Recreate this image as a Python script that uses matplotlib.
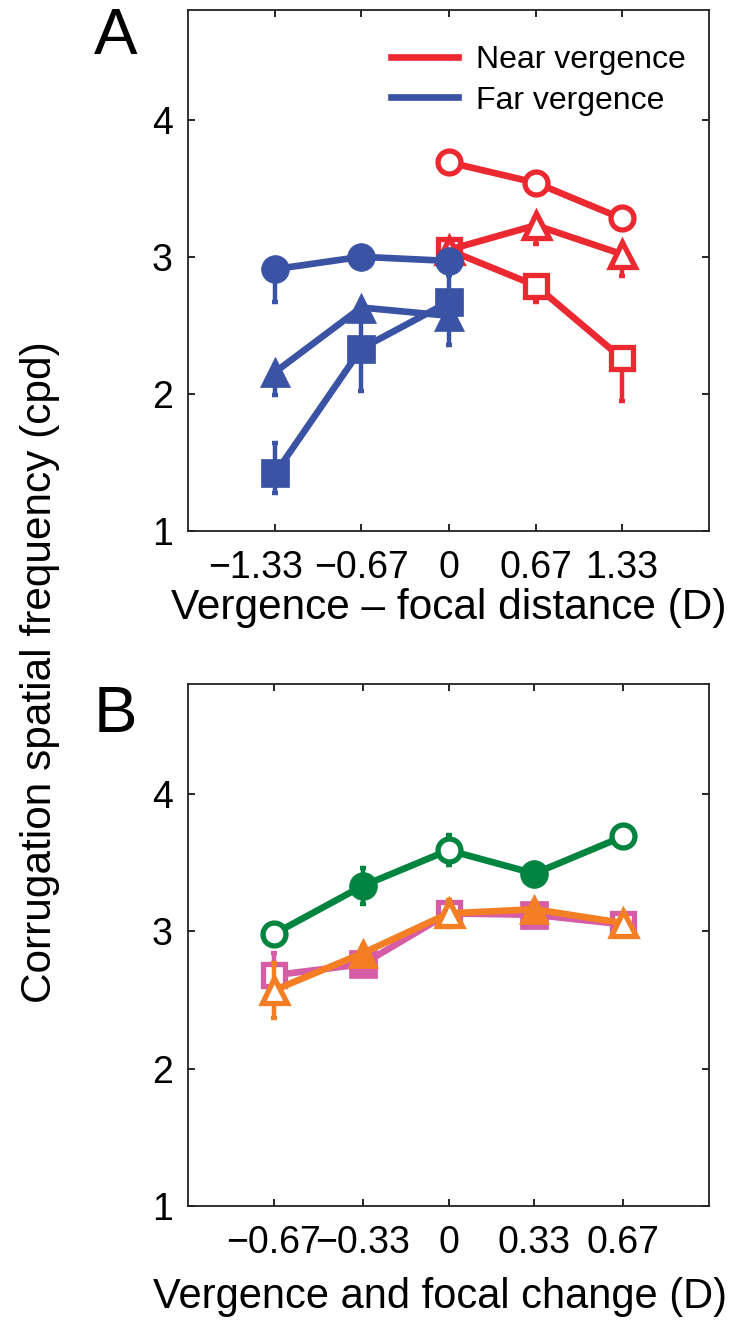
import matplotlib
matplotlib.use("Agg")
import matplotlib.pyplot as plt
import matplotlib.transforms as mtransforms
import numpy as np

plt.rcParams['font.family'] = ['Liberation Sans', 'DejaVu Sans']

# ---------------- data ----------------
# Panel A
x_near = [0.0, 0.67, 1.33]
x_far = [-1.33, -0.67, 0.0]
near_circle = [3.69, 3.54, 3.28]
near_circle_lo = [0.04, 0.04, 0.04]
near_circle_hi = [0.04, 0.04, 0.04]
near_tri = [3.05, 3.23, 3.02]
near_tri_lo = [0.10, 0.14, 0.16]
near_tri_hi = [0.05, 0.05, 0.05]
near_sq = [3.05, 2.79, 2.26]
near_sq_lo = [0.05, 0.12, 0.31]
near_sq_hi = [0.05, 0.05, 0.05]
far_circle = [2.91, 3.00, 2.97]
far_circle_lo = [0.24, 0.06, 0.10]
far_circle_hi = [0.03, 0.03, 0.03]
far_tri = [2.16, 2.63, 2.57]
far_tri_lo = [0.17, 0.10, 0.21]
far_tri_hi = [0.04, 0.04, 0.04]
far_sq = [1.42, 2.33, 2.67]
far_sq_lo = [0.14, 0.31, 0.10]
far_sq_hi = [0.22, 0.30, 0.20]

xticks_A = [-1.33, -0.67, 0, 0.67, 1.33]
xticklabels_A = ['\u22121.33', '\u22120.67', '0', '0.67', '1.33']

# Panel B
x_B = [-0.67, -0.33, 0.0, 0.33, 0.67]
green_circle = [2.98, 3.33, 3.59, 3.42, 3.69]
green_err = [0.04, 0.13, 0.11, 0.04, 0.04]
magenta_sq = [2.68, 2.76, 3.13, 3.12, 3.05]
magenta_err = [0.16, 0.05, 0.05, 0.05, 0.05]
orange_tri = [2.57, 2.84, 3.13, 3.16, 3.06]
orange_err = [0.20, 0.05, 0.10, 0.05, 0.05]
open_B = [True, False, True, False, True]

xticks_B = [-0.67, -0.33, 0, 0.33, 0.67]
xticklabels_B = ['\u22120.67', '\u22120.33', '0', '0.33', '0.67']

yticks = [1, 2, 3, 4]

RED = '#EC2830'
BLUE = '#3A53A4'
GREEN = '#00843F'
MAGENTA = '#D65CA6'
ORANGE = '#F47E23'

LW = 4.8
MEW = 3.8
TICK_FS = 27
LABEL_FS = 30.5

# marker sizes (open, filled) per marker type
MS = {'o': (16.5, 20), 's': (16.5, 20), '^': (18, 22)}

fig = plt.figure(figsize=(7.36, 13.23), dpi=100)
axA = fig.add_axes([188 / 736, 1 - 531 / 1323, 521 / 736, 521 / 1323])
axB = fig.add_axes([188 / 736, 1 - 1206 / 1323, 521 / 736, 522 / 1323])


def series(ax, x, y, lo, hi, color, marker, open_mask, z):
    x = np.asarray(x)
    y = np.asarray(y)
    ax.errorbar(x, y, yerr=[lo, hi], fmt='none', ecolor=color, elinewidth=3.2,
                capsize=2.5, capthick=3.2, zorder=z)
    ax.plot(x, y, '-', color=color, lw=LW, zorder=z + 0.1)
    om = np.asarray(open_mask)
    ms_open, ms_fill = MS[marker]
    if om.any():
        ax.plot(x[om], y[om], ls='none', marker=marker, ms=ms_open, mfc='white',
                mec=color, mew=MEW, zorder=z + 0.2)
    if (~om).any():
        ax.plot(x[~om], y[~om], ls='none', marker=marker, ms=ms_fill, mfc=color,
                mec=color, mew=0.5, zorder=z + 0.2)


# Panel A
series(axA, x_near, near_sq, near_sq_lo, near_sq_hi, RED, 's', [True] * 3, 2)
series(axA, x_near, near_tri, near_tri_lo, near_tri_hi, RED, '^', [True] * 3, 2.3)
series(axA, x_near, near_circle, near_circle_lo, near_circle_hi, RED, 'o', [True] * 3, 2.6)
series(axA, x_far, far_tri, far_tri_lo, far_tri_hi, BLUE, '^', [False] * 3, 3)
series(axA, x_far, far_sq, far_sq_lo, far_sq_hi, BLUE, 's', [False] * 3, 3.3)
series(axA, x_far, far_circle, far_circle_lo, far_circle_hi, BLUE, 'o', [False] * 3, 3.6)

axA.plot([], [], color=RED, lw=LW, label='Near vergence')
axA.plot([], [], color=BLUE, lw=LW, label='Far vergence')
axA.legend(loc='upper right', frameon=False, fontsize=23, handlelength=2.1,
           handletextpad=0.55, labelspacing=0.32, borderaxespad=0.3,
           bbox_to_anchor=(0.998, 0.975))

axA.set_xlim(-2, 2)
axA.set_ylim(1, 4.8)
axA.set_xticks(xticks_A)
axA.set_xticklabels(xticklabels_A)
axA.set_xlabel('Vergence \u2013 focal distance (D)', fontsize=LABEL_FS, labelpad=1)

# Panel B
series(axB, x_B, magenta_sq, magenta_err, magenta_err, MAGENTA, 's', open_B, 2)
series(axB, x_B, orange_tri, orange_err, orange_err, ORANGE, '^', open_B, 2.5)
series(axB, x_B, green_circle, green_err, green_err, GREEN, 'o', open_B, 3)

axB.set_xlim(-1, 1)
axB.set_ylim(1, 4.8)
axB.set_xticks(xticks_B)
axB.set_xticklabels(xticklabels_B)
axB.set_xlabel('Vergence and focal change (D)', fontsize=30, labelpad=11)
axB.xaxis.label.set_x((440 - 188) / 521)

for ax in (axA, axB):
    ax.set_yticks(yticks)
    ax.set_yticklabels([str(v) for v in yticks])
    ax.tick_params(direction='in', length=5, width=1.2, top=True, right=True,
                   labelsize=TICK_FS, colors='black')
    ax.tick_params(axis='x', pad=14)
    ax.tick_params(axis='y', pad=11)
    for s in ax.spines.values():
        s.set_linewidth(1.3)
        s.set_color('#222222')

# shift the leftmost label of panel A a bit to the left (as in the original)
shift = mtransforms.ScaledTranslation(-20 / 100, 0, fig.dpi_scale_trans)
lab0 = axA.get_xticklabels()[0]
lab0.set_transform(lab0.get_transform() + shift)

fig.text(40 / 736, 1 - 672 / 1323, 'Corrugation spatial frequency (cpd)',
         rotation=90, ha='center', va='center', fontsize=LABEL_FS)
fig.text(94 / 736, 1 - 54 / 1323, 'A', fontsize=47, ha='left', va='baseline')
fig.text(94 / 736, 1 - 732 / 1323, 'B', fontsize=47, ha='left', va='baseline')

fig.savefig('out.png', dpi=100)
